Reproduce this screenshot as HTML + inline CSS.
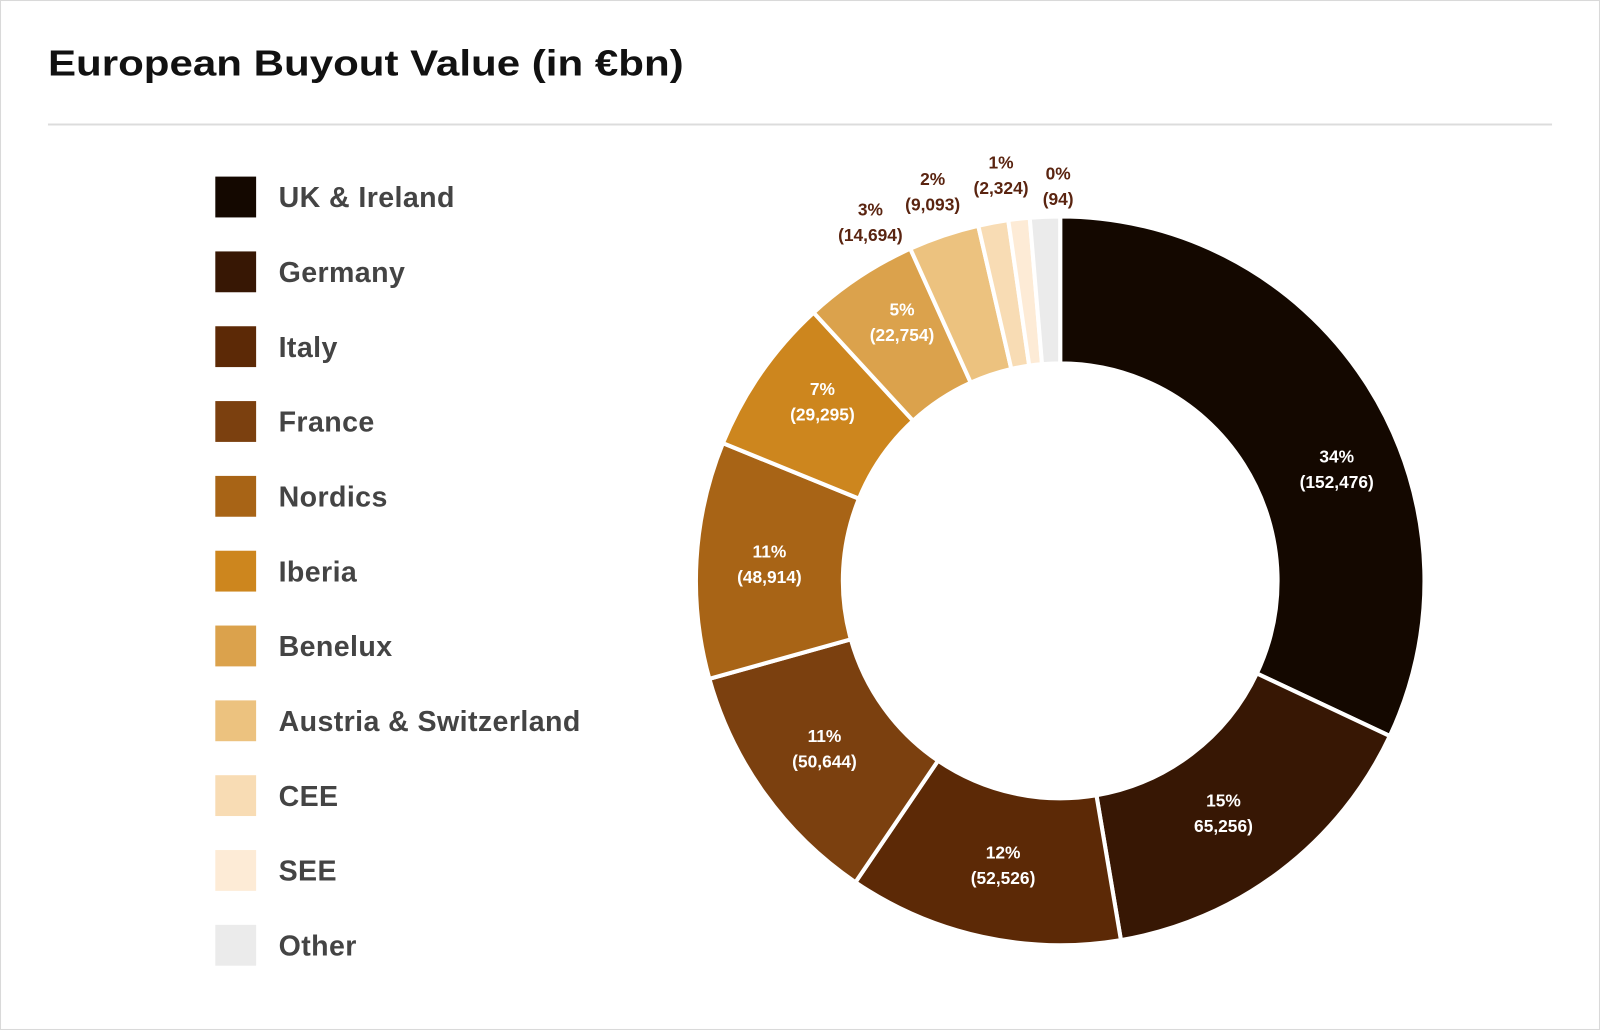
<!DOCTYPE html>
<html><head><meta charset="utf-8"><style>
html,body{margin:0;padding:0;background:#fff;}
svg{display:block;}
text{font-family:"Liberation Sans",Arial,sans-serif;}
</style></head><body>
<svg id="s" width="1600" height="1030" viewBox="0 0 1568 1009" preserveAspectRatio="none" xmlns="http://www.w3.org/2000/svg">
<rect x="0.5" y="0.5" width="1567" height="1008" fill="#fff" stroke="#d9d9d9"/>
<text x="47" y="74" font-size="35" font-weight="bold" fill="#111" textLength="623" lengthAdjust="spacingAndGlyphs">European Buyout Value (in €bn)</text>
<line x1="47" y1="122" x2="1521" y2="122" stroke="#dcdcdc" stroke-width="2"/>
<g id="legend"></g>
<g id="pie"></g>
<g font-size="17" font-weight="bold" text-anchor="middle" fill="#fff">
<text x="1310" y="453">34%</text><text x="1310" y="478">(152,476)</text>
<text x="1199" y="790">15%</text><text x="1199" y="815">65,256)</text>
<text x="983" y="841">12%</text><text x="983" y="866">(52,526)</text>
<text x="808" y="727">11%</text><text x="808" y="752">(50,644)</text>
<text x="754" y="546">11%</text><text x="754" y="571">(48,914)</text>
<text x="806" y="387">7%</text><text x="806" y="412">(29,295)</text>
<text x="884" y="309">5%</text><text x="884" y="334">(22,754)</text>
</g>
<g font-size="17" font-weight="bold" text-anchor="middle" fill="#5a2410">
<text x="853" y="211">3%</text><text x="853" y="236">(14,694)</text>
<text x="914" y="181">2%</text><text x="914" y="206">(9,093)</text>
<text x="981" y="165">1%</text><text x="981" y="190">(2,324)</text>
<text x="1037" y="176">0%</text><text x="1037" y="201">(94)</text>
</g>
</svg>
<script>
var data=[["UK & Ireland","#140800",115.2],["Germany","#371704",170.4],["Italy","#5c2906",214.2],["France","#7b400f",254.4],["Nordics","#a86416",292.2],["Iberia","#cd861e",317.4],["Benelux","#dba24c",335.7],["Austria & Switzerland","#ecc27f",347],["CEE","#f8dcb4",351.8],["SEE","#fdebd6",355.2],["Other","#ebebeb",360]];
var NS="http://www.w3.org/2000/svg";
var cx=1039,cy=569,R=357,r=213,pie=document.getElementById("pie"),lg=document.getElementById("legend");
function pt(a,rad){var t=(a-90)*Math.PI/180;return [cx+rad*Math.cos(t),cy+rad*Math.sin(t)];}
var start=0;
data.forEach(function(d,i){
  var end=d[2],large=(end-start)>180?1:0;
  var p1=pt(start,R),p2=pt(end,R),p3=pt(end,r),p4=pt(start,r);
  var p=document.createElementNS(NS,"path");
  p.setAttribute("d","M"+p1+"A"+R+","+R+" 0 "+large+" 1 "+p2+"L"+p3+"A"+r+","+r+" 0 "+large+" 0 "+p4+"Z");
  p.setAttribute("fill",d[1]);p.setAttribute("stroke","#fff");p.setAttribute("stroke-width","4");
  pie.appendChild(p);start=end;
  var y=193+i*73.3;
  var rc=document.createElementNS(NS,"rect");
  rc.setAttribute("x",211);rc.setAttribute("y",y-20);rc.setAttribute("width",40);rc.setAttribute("height",40);rc.setAttribute("fill",d[1]);
  lg.appendChild(rc);
  var t=document.createElementNS(NS,"text");
  t.setAttribute("x",273);t.setAttribute("y",y+10);t.setAttribute("font-size","28");t.setAttribute("font-weight","bold");t.setAttribute("fill","#444");t.setAttribute("letter-spacing","0.4");
  t.textContent=d[0];lg.appendChild(t);
});
</script>
</body></html>
